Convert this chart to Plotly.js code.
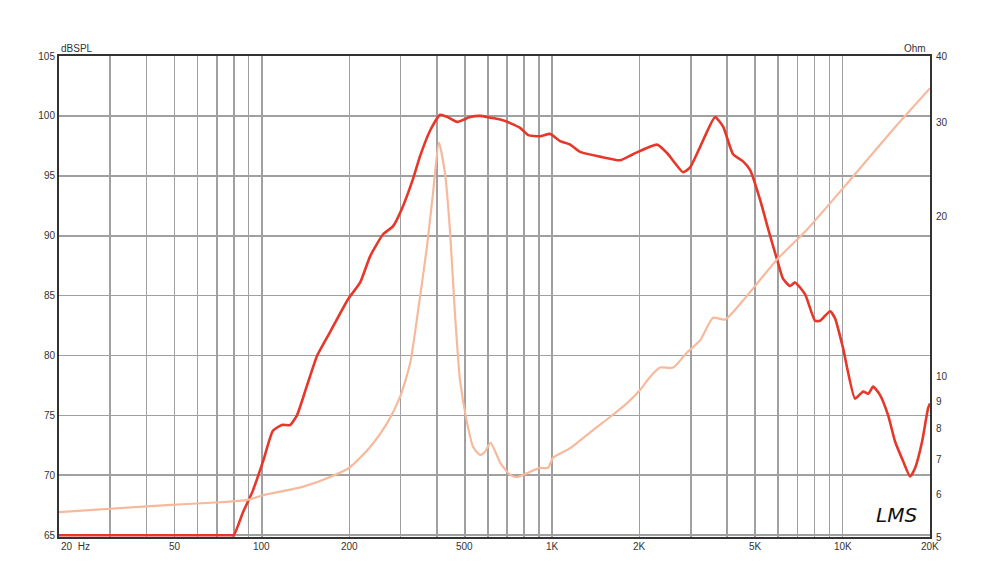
<!DOCTYPE html>
<html>
<head>
<meta charset="utf-8">
<script src="https://cdn.plot.ly/plotly-3.0.1.min.js"></script>
<style>html,body{margin:0;padding:0;background:#fff;}#chart{width:981px;height:587px;}</style>
</head>
<body>
<div id="chart"></div>
<script>
// SPL response (dB SPL)
var splFreq = [20, 40, 60, 72, 78, 80, 86, 93, 101, 109, 117, 125, 132, 143, 155, 172, 198, 218, 236, 261, 283, 304, 331, 350, 380, 411, 436, 470, 521, 564, 611, 662, 716, 775, 826, 908, 982, 1064, 1152, 1247, 1461, 1712, 1897, 2296, 2485, 2822, 2983, 3229, 3636, 3877, 4195, 4540, 4799, 5199, 5550, 5948, 6238, 6593, 6858, 7430, 8040, 8363, 9055, 9420, 10040, 11040, 11770, 12250, 12740, 13460, 14350, 15170, 16150, 17080, 17770, 18780, 19700, 20000];
var splDb = [65, 65, 65, 65, 65, 65, 66.9, 68.7, 71.2, 73.7, 74.2, 74.2, 75.0, 77.5, 80.0, 82.0, 84.7, 86.1, 88.3, 90.1, 90.8, 92.3, 94.7, 96.6, 98.8, 100.1, 99.9, 99.5, 99.9, 100.0, 99.85, 99.7, 99.4, 99.0, 98.4, 98.3, 98.5, 97.9, 97.6, 97.0, 96.6, 96.3, 96.8, 97.6, 96.9, 95.3, 95.7, 97.4, 99.9, 99.1, 96.8, 96.2, 95.5, 93.0, 90.5, 88.0, 86.4, 85.8, 86.1, 85.1, 82.9, 82.9, 83.7, 83.1, 80.6, 76.4, 77.0, 76.8, 77.4, 76.7, 75.0, 72.8, 71.2, 69.9, 70.6, 72.8, 75.6, 76.0];

// Impedance (Ohm)
var impFreq = [20, 47, 72, 89, 101, 138, 172, 201, 236, 270, 299, 324, 345, 370, 388, 407, 427, 444, 462, 481, 509, 534, 564, 586, 613, 662, 716, 757, 819, 908, 967, 1006, 1152, 1382, 1582, 1810, 2006, 2171, 2350, 2606, 2911, 3229, 3581, 3937, 4540, 5948, 7546, 10610, 15000, 20000];
var impOhm = [5.57, 5.74, 5.81, 5.87, 5.99, 6.21, 6.48, 6.76, 7.38, 8.18, 9.16, 10.6, 13.3, 17.5, 22.0, 27.5, 24.1, 18.9, 13.2, 9.86, 8.18, 7.38, 7.13, 7.22, 7.51, 6.89, 6.54, 6.48, 6.59, 6.74, 6.74, 7.04, 7.34, 7.94, 8.40, 8.92, 9.44, 9.99, 10.4, 10.4, 11.1, 11.7, 12.9, 12.8, 13.9, 16.6, 18.9, 23.4, 29.2, 34.8];

// Axis ticks
var xGridVals = [30, 40, 50, 60, 70, 80, 90, 100, 200, 300, 400, 500, 600, 700, 800, 900, 1000, 2000, 3000, 4000, 5000, 6000, 7000, 8000, 9000, 10000];
var xLabelVals = [20, 50, 100, 200, 500, 1000, 2000, 5000, 10000, 20000];
var xLabelText = ['20  Hz', '50', '100', '200', '500', '1K', '2K', '5K', '10K', '20K'];
var yLeftVals = [65, 70, 75, 80, 85, 90, 95, 100, 105];
var yRightVals = [5, 6, 7, 8, 9, 10, 20, 30, 40];

var tickFont = {family: 'Liberation Sans, Arial, sans-serif', size: 10, color: '#333'};

var traces = [
  {x: impFreq, y: impOhm, yaxis: 'y2', type: 'scatter', mode: 'lines',
   line: {color: '#f7b99c', width: 2.2, shape: 'spline', smoothing: 0.6}, hoverinfo: 'skip'},
  {x: splFreq, y: splDb, type: 'scatter', mode: 'lines',
   line: {color: '#e5382a', width: 2.6, shape: 'spline', smoothing: 0.5}, hoverinfo: 'skip'}
];

var annotations = xLabelVals.map(function (v, i) {
  return {x: Math.log10(v), y: 0, xref: 'x', yref: 'paper', text: xLabelText[i],
    showarrow: false, xanchor: i === 0 ? 'left' : 'center', yanchor: 'top', yshift: -2,
    font: tickFont};
});
annotations.push({x: 0, y: 1, xref: 'paper', yref: 'paper', text: 'dBSPL', showarrow: false,
  xanchor: 'left', yanchor: 'bottom', font: tickFont});
annotations.push({x: 1, y: 1, xref: 'paper', yref: 'paper', text: 'Ohm', showarrow: false,
  xanchor: 'right', yanchor: 'bottom', xshift: -2, font: tickFont});
annotations.push({x: 0.962, y: 0.045, xref: 'paper', yref: 'paper', text: 'LMS', showarrow: false,
  xanchor: 'center', yanchor: 'middle',
  font: {family: 'DejaVu Sans, sans-serif', size: 20, color: '#111', style: 'italic'}});

var layout = {
  width: 981, height: 587,
  margin: {l: 59, r: 51, t: 56, b: 50, pad: 0},
  paper_bgcolor: '#fff', plot_bgcolor: '#fff',
  showlegend: false,
  xaxis: {type: 'log', range: [Math.log10(20), Math.log10(20000)],
    tickvals: xGridVals, showticklabels: false, ticks: '',
    showgrid: true, gridcolor: '#a0a0a0', gridwidth: 1.6,
    showline: true, linecolor: '#333', linewidth: 2, mirror: true, zeroline: false},
  yaxis: {range: [64.85, 105], tickvals: yLeftVals, ticks: '', tickfont: tickFont,
    showgrid: true, gridcolor: '#a0a0a0', gridwidth: 1.6,
    showline: true, linecolor: '#333', linewidth: 2, mirror: true, zeroline: false},
  yaxis2: {type: 'log', overlaying: 'y', side: 'right', range: [Math.log10(5), Math.log10(40)],
    tickvals: yRightVals, ticktext: yRightVals.map(String), ticks: '', tickfont: tickFont,
    ticklabelstandoff: 5,
    showgrid: false, showline: false, zeroline: false},
  annotations: annotations
};

Plotly.newPlot('chart', traces, layout, {staticPlot: true});
</script>
</body>
</html>
